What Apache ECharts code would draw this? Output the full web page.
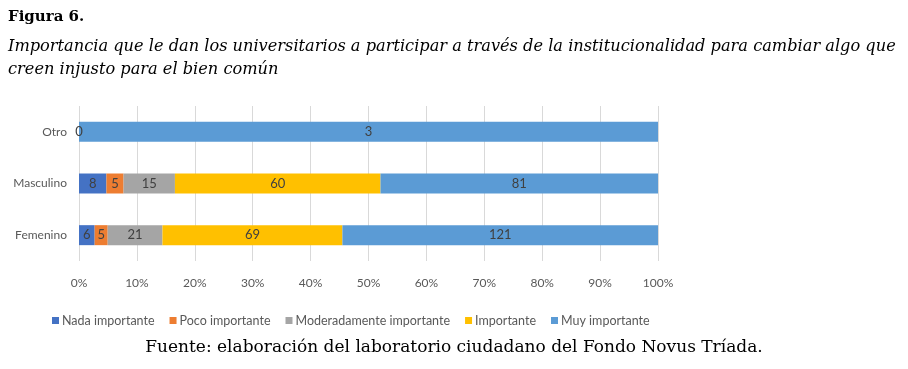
<!DOCTYPE html>
<html><head><meta charset="utf-8">
<script src="https://cdn.jsdelivr.net/npm/echarts@6/dist/echarts.min.js"></script>
<style>html,body{margin:0;padding:0;background:#fff}#c{width:908px;height:369px}</style>
</head><body><div id="c"></div>
<script>
const categories = ['Femenino', 'Masculino', 'Otro'];
const seriesNames = ['Nada importante', 'Poco importante', 'Moderadamente importante', 'Importante', 'Muy importante'];
const nada = [6, 8, 0];
const poco = [5, 5, 0];
const moderado = [21, 15, 0];
const importante = [69, 60, 0];
const muy = [121, 81, 3];
const xTicks = ['0%','10%','20%','30%','40%','50%','60%','70%','80%','90%','100%'];
const colors = ['#4472C4', '#ED7D31', '#A5A5A5', '#FFC000', '#5B9BD5'];

const raw = [nada, poco, moderado, importante, muy];
const totals = categories.map((c, i) => raw.reduce((s, arr) => s + arr[i], 0));

const chartFont = 'Lato, "Liberation Sans", sans-serif';
const serif = '"DejaVu Serif", "Liberation Serif", serif';

const series = raw.map((arr, si) => ({
  name: seriesNames[si],
  type: 'bar',
  stack: 'total',
  barWidth: 20,
  itemStyle: { color: colors[si] },
  label: {
    show: true,
    position: 'inside',
    color: '#404040',
    fontFamily: chartFont,
    fontSize: 13,
    formatter: p => (p.data.raw === 0 && si !== 0) ? '' : String(p.data.raw)
  },
  data: arr.map((v, i) => ({ value: v / totals[i] * 100, raw: v }))
}));

const chart = echarts.init(document.getElementById('c'));
chart.setOption({
  animation: false,
  title: [
    { text: 'Figura 6.', left: 3, top: 5, textStyle: { fontFamily: serif, fontWeight: 'bold', fontSize: 15, color: '#000' } },
    { text: 'Importancia que le dan los universitarios a participar a través de la institucionalidad para cambiar algo que', left: 3, top: 34, textStyle: { fontFamily: serif, fontStyle: 'italic', fontWeight: 'normal', fontSize: 16.2, color: '#000' } },
    { text: 'creen injusto para el bien común', left: 3, top: 57, textStyle: { fontFamily: serif, fontStyle: 'italic', fontWeight: 'normal', fontSize: 16.2, color: '#000' } },
    { text: 'Fuente: elaboración del laboratorio ciudadano del Fondo Novus Tríada.', left: 'center', top: 334, textStyle: { fontFamily: serif, fontWeight: 'normal', fontSize: 17, color: '#000' } }
  ],
  legend: {
    left: 47, top: 309,
    itemWidth: 7, itemHeight: 7, itemGap: 15,
    icon: 'rect',
    textStyle: { fontFamily: chartFont, fontSize: 12.5, color: '#595959', padding: [0, 0, 0, -2] },
    data: seriesNames
  },
  grid: { left: 79, right: 250, top: 106, bottom: 108, containLabel: false },
  xAxis: {
    type: 'value', min: 0, max: 100, interval: 10,
    axisLabel: { formatter: v => xTicks[Math.round(v / 10)], color: '#595959', fontFamily: chartFont, fontSize: 12, margin: 16 },
    splitLine: { show: true, lineStyle: { color: '#D9D9D9', width: 1 } },
    axisLine: { show: false }, axisTick: { show: false }
  },
  yAxis: {
    type: 'category', data: categories,
    axisLabel: { color: '#595959', fontFamily: chartFont, fontSize: 12, margin: 12 },
    axisLine: { show: false }, axisTick: { show: false }
  },
  series
});
</script></body></html>
